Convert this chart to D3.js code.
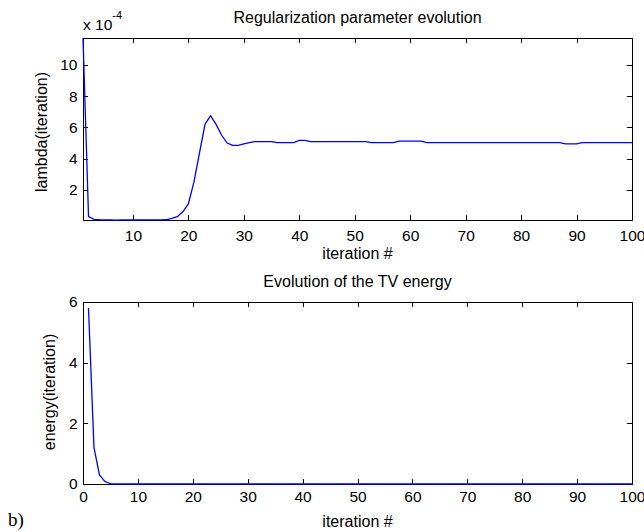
<!DOCTYPE html>
<html>
<head>
<meta charset="utf-8">
<script src="https://cdn.jsdelivr.net/npm/d3@7"></script>
<style>
  body { margin: 0; background: #fff; }
  svg text { font-family: "Liberation Sans", Arial, sans-serif; fill: #000; }
  .eje text { font-size: 15.5px; }
  .eje line { stroke: #000; shape-rendering: crispEdges; }
</style>
</head>
<body>
<div id="graf"></div>
<script>
// I. Datos (lambda en unidades de 1e-4, iteraciones 1..100)
lambdaVals = [
  11.73, 0.30, 0.12, 0.09, 0.08, 0.08, 0.07, 0.08, 0.08, 0.08,
  0.08, 0.08, 0.08, 0.08, 0.08, 0.09, 0.18, 0.29, 0.60, 1.10,
  2.50, 4.35, 6.20, 6.75, 6.20, 5.50, 5.00, 4.85, 4.85, 4.95,
  5.03, 5.10, 5.10, 5.10, 5.10, 5.03, 5.03, 5.03, 5.03, 5.18,
  5.18, 5.10, 5.10, 5.10, 5.10, 5.10, 5.10, 5.10, 5.10, 5.10,
  5.10, 5.10, 5.03, 5.03, 5.03, 5.03, 5.03, 5.12, 5.12, 5.12,
  5.12, 5.12, 5.03, 5.03, 5.03, 5.03, 5.03, 5.03, 5.03, 5.03,
  5.03, 5.03, 5.03, 5.03, 5.03, 5.03, 5.03, 5.03, 5.03, 5.03,
  5.03, 5.03, 5.03, 5.03, 5.03, 5.03, 5.03, 4.95, 4.95, 4.95,
  5.03, 5.03, 5.03, 5.03, 5.03, 5.03, 5.03, 5.03, 5.03, 5.03
]

energyVals = [
  5.80, 1.20, 0.30, 0.08, 0.01, 0, 0, 0, 0, 0,
  0, 0, 0, 0, 0, 0, 0, 0, 0, 0,
  0, 0, 0, 0, 0, 0, 0, 0, 0, 0,
  0, 0, 0, 0, 0, 0, 0, 0, 0, 0,
  0, 0, 0, 0, 0, 0, 0, 0, 0, 0,
  0, 0, 0, 0, 0, 0, 0, 0, 0, 0,
  0, 0, 0, 0, 0, 0, 0, 0, 0, 0,
  0, 0, 0, 0, 0, 0, 0, 0, 0, 0,
  0, 0, 0, 0, 0, 0, 0, 0, 0, 0,
  0, 0, 0, 0, 0, 0, 0, 0, 0, 0
]

xTicksTop = [10, 20, 30, 40, 50, 60, 70, 80, 90, 100]
yTicksTop = [2, 4, 6, 8, 10]
xTicksBot = [0, 10, 20, 30, 40, 50, 60, 70, 80, 90, 100]
yTicksBot = [0, 2, 4, 6]

tituloTop = 'Regularization parameter evolution'
tituloBot = 'Evolution of the TV energy'

// II. Configuración
ancho = 644
alto = 532

svg = d3.select('#graf').append('svg')
  .attr('width', ancho)
  .attr('height', alto)

function panel(cfg) {
  x = d3.scaleLinear().domain(cfg.xDom).range([83, 632])
  y = d3.scaleLinear().domain(cfg.yDom).range([cfg.bottom, cfg.top])

  g = svg.append('g')

  // ejes con marcas hacia adentro en los cuatro lados
  g.append('g').attr('class', 'eje')
    .attr('transform', `translate(0, ${cfg.bottom})`)
    .call(d3.axisBottom(x).tickValues(cfg.xTicks).tickFormat(d => d)
      .tickSizeInner(-5).tickSizeOuter(0).tickPadding(cfg.xPad))
  g.append('g').attr('class', 'eje')
    .attr('transform', `translate(0, ${cfg.top})`)
    .call(d3.axisTop(x).tickValues(cfg.xTicks).tickSizeInner(-5).tickSizeOuter(0).tickFormat(''))
  g.append('g').attr('class', 'eje')
    .attr('transform', 'translate(83, 0)')
    .call(d3.axisLeft(y).tickValues(cfg.yTicks).tickFormat(d => d)
      .tickSizeInner(-5).tickSizeOuter(0).tickPadding(5.5))
  g.append('g').attr('class', 'eje')
    .attr('transform', 'translate(632, 0)')
    .call(d3.axisRight(y).tickValues(cfg.yTicks).tickSizeInner(-5).tickSizeOuter(0).tickFormat(''))
  g.selectAll('.domain').remove()

  g.append('rect')
    .attr('x', 83).attr('y', cfg.top)
    .attr('width', 632 - 83).attr('height', cfg.bottom - cfg.top)
    .attr('fill', 'none').attr('stroke', '#000')
    .style('shape-rendering', 'crispEdges')

  linea = d3.line()
    .x((d, i) => x(i + 1))
    .y(d => y(d))

  g.append('path')
    .datum(cfg.vals)
    .attr('d', linea)
    .attr('fill', 'none')
    .attr('stroke', '#0000ff')
    .attr('stroke-width', 1.3)

  g.append('text')
    .attr('x', 357.5).attr('y', cfg.top - 15)
    .attr('text-anchor', 'middle')
    .style('font-size', '16px')
    .text(cfg.titulo)

  g.append('text')
    .attr('x', 357.5).attr('y', cfg.xLabY)
    .attr('text-anchor', 'middle')
    .style('font-size', '16px')
    .text('iteration #')

  g.append('text')
    .attr('transform', `translate(${cfg.yLabX}, ${cfg.yLabC}) rotate(-90)`)
    .attr('text-anchor', 'middle')
    .style('font-size', '16px')
    .text(cfg.yLab)
}

panel({ xDom: [1, 100], yDom: [0.075, 11.73], top: 38, bottom: 220,
  xTicks: xTicksTop, yTicks: yTicksTop, xPad: 9.5, vals: lambdaVals,
  titulo: tituloTop, xLabY: 258.5, yLab: 'lambda(iteration)', yLabX: 47, yLabC: 132 })

panel({ xDom: [0, 100], yDom: [0, 6], top: 302, bottom: 484,
  xTicks: xTicksBot, yTicks: yTicksBot, xPad: 7, vals: energyVals,
  titulo: tituloBot, xLabY: 526.5, yLab: 'energy(iteration)', yLabX: 55, yLabC: 392 })

// factor de escala x 10^-4
exp = svg.append('text').attr('x', 83).attr('y', 30).style('font-size', '15.5px')
exp.append('tspan').text('x 10')
exp.append('tspan').attr('dy', -11).style('font-size', '11px').text('-4')

// etiqueta del panel
svg.append('text')
  .attr('x', 8).attr('y', 526)
  .style('font-family', '"Liberation Serif", "Times New Roman", serif')
  .style('font-size', '19px')
  .text('b)')
</script>
</body>
</html>
